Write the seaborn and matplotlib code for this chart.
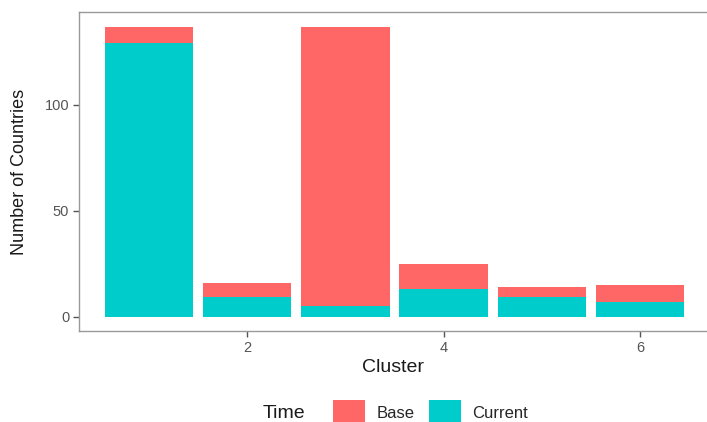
import pandas as pd
import matplotlib
matplotlib.use('Agg')
import matplotlib.pyplot as plt
import seaborn as sns

clusters = [1, 2, 3, 4, 5, 6]
base_counts = [8, 7, 132, 12, 5, 8]
current_counts = [129, 9, 5, 13, 9, 7]
time_levels = ['Base', 'Current']
palette = {'Base': '#FF6666', 'Current': '#00CCCC'}

df = pd.DataFrame({
    'Cluster': clusters * 2,
    'Time': ['Base'] * len(clusters) + ['Current'] * len(clusters),
    'count': base_counts + current_counts,
})

sns.set_style('white')
plt.rcParams['font.family'] = ['Liberation Sans', 'DejaVu Sans']

fig = plt.figure(figsize=(7.07, 4.22), dpi=100)
ax = fig.add_axes([79 / 707, 1 - 331 / 422, 1 - 79 / 707, (331 - 12) / 422])

sns.histplot(data=df, x='Cluster', hue='Time', weights='count', hue_order=time_levels,
             multiple='stack', discrete=True, shrink=0.9, palette=palette,
             alpha=1, linewidth=0, ax=ax)

ax.set_xlim(0.29, 6.68)
ax.set_ylim(-6.85, 143.85)
ax.set_xticks([2, 4, 6])
ax.set_yticks([0, 50, 100])
ax.set_xlabel('Cluster', fontsize=14, color='#1a1a1a', labelpad=3)
ax.set_ylabel('Number of Countries', fontsize=13, color='#1a1a1a', labelpad=12)
ax.tick_params(axis='both', labelsize=10.5, labelcolor='#555555', color='#555555',
               length=4, width=1, pad=3, bottom=True, left=True)
for side in ['left', 'bottom', 'top']:
    ax.spines[side].set_color('#999999')
    ax.spines[side].set_linewidth(1)
ax.spines['right'].set_visible(False)

sns.move_legend(ax, 'lower left', bbox_to_anchor=(325 / 707, -12 / 422),
                bbox_transform=fig.transFigure, ncol=2, title=None, frameon=False,
                fontsize=12, borderpad=0, handlelength=1.9, handleheight=2.0,
                handletextpad=0.7, columnspacing=0.85)
fig.text(263 / 707, 1 - 413 / 422, 'Time', fontsize=14, color='#1a1a1a', va='center')

fig.savefig('out.png', dpi=100)
